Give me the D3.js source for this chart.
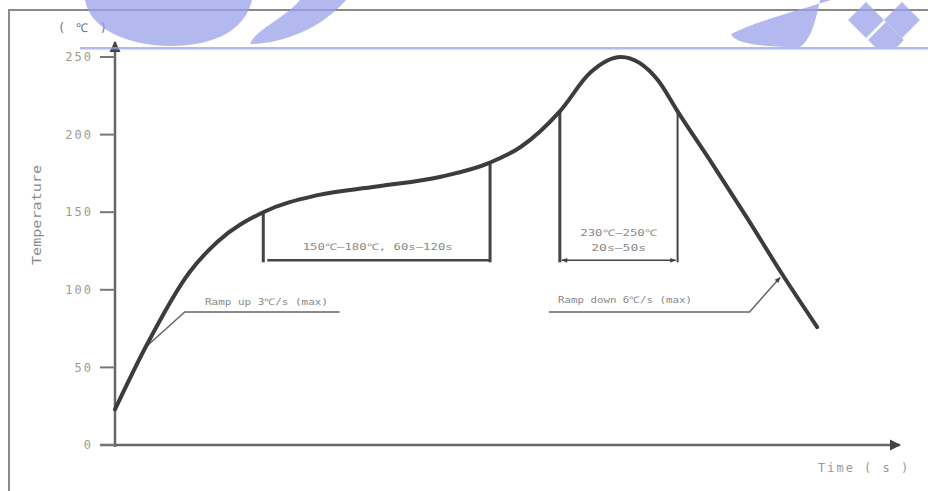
<!DOCTYPE html>
<html>
<head>
<meta charset="utf-8">
<script src="https://cdn.jsdelivr.net/npm/d3@7"></script>
<style>
  body { margin: 0; background: #fff; }
  text { font-family: "DejaVu Sans Mono", monospace; }
</style>
</head>
<body>
<div id="chart"></div>
<script>
// Reflow profile (time in s, temperature in °C)
const profileTime = [0, 14, 34, 47, 68, 93, 120, 150, 172, 186, 204, 218, 232, 249, 258, 274, 290, 306, 322];
const profileTemp = [23, 63, 111, 131, 150, 161, 166.5, 173, 182, 192, 215, 240, 250, 235, 215, 181, 146, 110, 76];

const yTicks = [0, 50, 100, 150, 200, 250];

// Zones
const preheatWindow = [68, 172];
const reflowWindow = [204, 258];
const bracketTemp = 119;

const preheatLabel = "150℃—180℃, 60s—120s";
const reflowLabel1 = "230℃—250℃";
const reflowLabel2 = "20s—50s";
const rampUpLabel = "Ramp up 3℃/s (max)";
const rampDownLabel = "Ramp down 6℃/s (max)";

// Leader lines: [time, temp] points
const rampUpLeader = [[14, 63], [32, 85.7], [103, 85.7]];
const rampDownLeader = [[199, 85.7], [291, 85.7], [305, 108]];

const width = 928;
const height = 491;

const svg = d3.select("#chart").append("svg")
    .attr("width", width)
    .attr("height", height);

const x = d3.scaleLinear().domain([0, 360]).range([115, 900]);
const y = d3.scaleLinear().domain([0, 250]).range([445, 57]);

const defs = svg.append("defs");
defs.append("marker")
    .attr("id", "axisArrow")
    .attr("viewBox", "0 0 10 10")
    .attr("refX", 9).attr("refY", 5)
    .attr("markerWidth", 4.5).attr("markerHeight", 4.5)
    .attr("markerUnits", "strokeWidth")
    .attr("orient", "auto")
  .append("path").attr("d", "M0,0L10,5L0,10z").attr("fill", "#444");
defs.append("marker")
    .attr("id", "smallArrow")
    .attr("viewBox", "0 0 10 10")
    .attr("refX", 9).attr("refY", 5)
    .attr("markerWidth", 8).attr("markerHeight", 6)
    .attr("markerUnits", "userSpaceOnUse")
    .attr("orient", "auto-start-reverse")
  .append("path").attr("d", "M0,1L10,5L0,9z").attr("fill", "#444");
defs.append("clipPath").attr("id", "wmClip")
  .append("rect").attr("width", width).attr("height", 49);

// Outer frame
svg.append("path")
    .attr("d", "M9,491V10H928")
    .attr("fill", "none")
    .attr("stroke", "#8a8a8a")
    .attr("stroke-width", 2);

// Axes
svg.append("line")
    .attr("x1", 100).attr("x2", x.range()[1])
    .attr("y1", y(0)).attr("y2", y(0))
    .attr("stroke", "#666").attr("stroke-width", 2.5)
    .attr("marker-end", "url(#axisArrow)");
svg.append("line")
    .attr("x1", x(0)).attr("x2", x(0))
    .attr("y1", y(0) + 2).attr("y2", 42)
    .attr("stroke", "#666").attr("stroke-width", 2.5)
    .attr("marker-end", "url(#axisArrow)");

const tick = svg.append("g").selectAll("g")
    .data(yTicks)
    .join("g")
    .attr("transform", d => `translate(0,${y(d)})`);
tick.append("line")
    .attr("x1", 100).attr("x2", x(0))
    .attr("stroke", "#777").attr("stroke-width", 2);
tick.append("text")
    .attr("x", 93).attr("dy", "0.35em")
    .attr("text-anchor", "end")
    .attr("font-size", 12)
    .attr("letter-spacing", 2)
    .attr("fill", "#a09a90")
    .text(d => d);

svg.append("text")
    .attr("x", 58).attr("y", 32)
    .attr("font-size", 12).attr("letter-spacing", 2)
    .attr("fill", "#6d6a9a")
    .text("( ℃ )");

svg.append("text")
    .attr("transform", "translate(41,215) rotate(-90)")
    .attr("text-anchor", "middle")
    .attr("font-family", "DejaVu Serif Condensed, serif")
    .attr("font-size", 13)
    .attr("textLength", 100).attr("lengthAdjust", "spacingAndGlyphs")
    .attr("fill", "#888")
    .text("Temperature");

svg.append("text")
    .attr("x", 818).attr("y", 472)
    .attr("font-size", 12).attr("letter-spacing", 2)
    .attr("fill", "#999")
    .text("Time ( s )");

// Zone brackets
const zones = svg.append("g").attr("stroke", "#444");
function curveTempAt(t) {
    const i = d3.bisectLeft(profileTime, t);
    if (profileTime[i] === t) return profileTemp[i];
    const t0 = profileTime[i - 1], t1 = profileTime[i];
    return profileTemp[i - 1] + (profileTemp[i] - profileTemp[i - 1]) * (t - t0) / (t1 - t0);
}
preheatWindow.concat(reflowWindow).forEach((t, i) => {
    zones.append("line")
        .attr("x1", x(t)).attr("x2", x(t))
        .attr("y1", y(curveTempAt(t))).attr("y2", y(bracketTemp) + 2)
        .attr("stroke-width", i === 3 ? 2 : 3);
});
zones.append("line")
    .attr("x1", x(preheatWindow[0]) + 4).attr("x2", x(preheatWindow[1]))
    .attr("y1", y(bracketTemp)).attr("y2", y(bracketTemp))
    .attr("stroke-width", 2.5);
zones.append("line")
    .attr("x1", x(reflowWindow[0]) + 2).attr("x2", x(reflowWindow[1]) - 2)
    .attr("y1", y(bracketTemp)).attr("y2", y(bracketTemp))
    .attr("stroke-width", 1.5)
    .attr("marker-start", "url(#smallArrow)")
    .attr("marker-end", "url(#smallArrow)");

const small = svg.append("g").attr("fill", "#888").attr("font-size", 9);
small.append("text")
    .attr("x", (x(preheatWindow[0]) + x(preheatWindow[1])) / 2 + 1).attr("y", 250)
    .attr("text-anchor", "middle")
    .attr("textLength", 150).attr("lengthAdjust", "spacingAndGlyphs")
    .text(preheatLabel);
small.append("text")
    .attr("x", (x(reflowWindow[0]) + x(reflowWindow[1])) / 2).attr("y", 236)
    .attr("text-anchor", "middle")
    .attr("textLength", 77).attr("lengthAdjust", "spacingAndGlyphs")
    .text(reflowLabel1);
small.append("text")
    .attr("x", (x(reflowWindow[0]) + x(reflowWindow[1])) / 2).attr("y", 251)
    .attr("text-anchor", "middle")
    .attr("textLength", 55).attr("lengthAdjust", "spacingAndGlyphs")
    .text(reflowLabel2);

// Leaders
const leader = d3.line().x(d => x(d[0])).y(d => y(d[1]));
svg.append("path")
    .attr("d", leader(rampUpLeader))
    .attr("fill", "none").attr("stroke", "#666").attr("stroke-width", 1.5);
svg.append("path")
    .attr("d", leader(rampDownLeader))
    .attr("fill", "none").attr("stroke", "#666").attr("stroke-width", 1.5)
    .attr("marker-end", "url(#smallArrow)");
small.append("text")
    .attr("x", 205).attr("y", 305)
    .attr("textLength", 123).attr("lengthAdjust", "spacingAndGlyphs")
    .text(rampUpLabel);
small.append("text")
    .attr("x", 558).attr("y", 303)
    .attr("textLength", 134).attr("lengthAdjust", "spacingAndGlyphs")
    .text(rampDownLabel);

// Profile curve
const profile = profileTime.map((t, i) => [t, profileTemp[i]]);
svg.append("path")
    .datum(profile)
    .attr("d", d3.line()
        .x(d => x(d[0]))
        .y(d => y(d[1]))
        .curve(d3.curveMonotoneX))
    .attr("fill", "none")
    .attr("stroke", "#3c3c3c")
    .attr("stroke-width", 4)
    .attr("stroke-linecap", "round");

// Watermark band at the top
const wm = svg.append("g").attr("fill", "#9aa1ea").attr("opacity", 0.75);
wm.append("rect").attr("x", 80).attr("y", 47).attr("width", 848).attr("height", 2.5);
wm.append("path")
    .attr("d", "M85,0 C90,30 130,46 170,46 C215,46 245,30 252,0 Z");
wm.append("path")
    .attr("d", "M250,44 C280,44 320,30 346,0 L300,0 C285,18 255,30 250,44 Z");
wm.append("path")
    .attr("d", "M731,34 C760,20 800,10 831,0 L820,0 C815,25 810,40 800,47 C770,47 735,45 731,34 Z");
[[866, 20], [902, 20], [886, 40]].forEach(([cx, cy]) => {
    wm.append("path")
        .attr("d", `M${cx},${cy - 18}L${cx + 18},${cy}L${cx},${cy + 18}L${cx - 18},${cy}Z`)
        .attr("clip-path", "url(#wmClip)");
});
</script>
</body>
</html>
